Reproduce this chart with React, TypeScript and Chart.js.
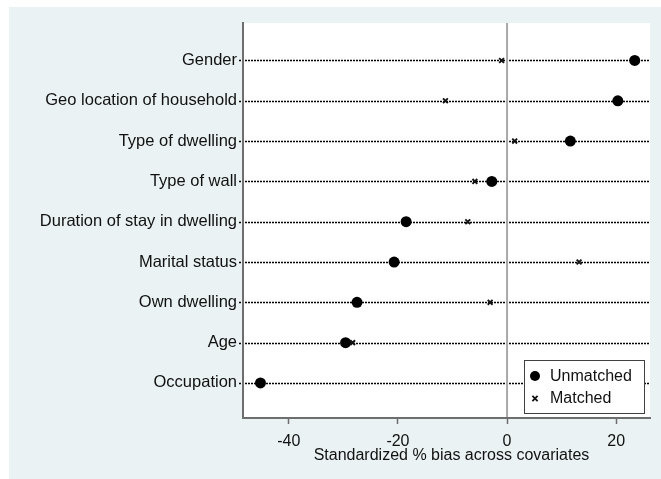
import React, { useEffect, useRef } from "react";
import { Chart, registerables } from "chart.js";

Chart.register(...registerables);

const categories = [
  "Gender",
  "Geo location of household",
  "Type of dwelling",
  "Type of wall",
  "Duration of stay in dwelling",
  "Marital status",
  "Own dwelling",
  "Age",
  "Occupation",
];
const unmatched = [23.4, 20.3, 11.6, -2.8, -18.5, -20.7, -27.5, -29.6, -45.2];
const matched = [-1.0, -11.3, 1.4, -5.9, -7.2, 13.2, -3.1, -28.3, 8.0];
const xTicks = [-40, -20, 0, 20];
const seriesNames = ["Unmatched", "Matched"];
const xTitle = "Standardized % bias across covariates";

const FONT = "'Liberation Sans', Arial, Helvetica, sans-serif";
const TEXT = "#111111";
const AXIS = "#6e6e6e";

const guidesPlugin = {
  id: "guides",
  beforeDraw(chart: any) {
    const { ctx, chartArea, scales } = chart;
    const x = scales.x;
    const y = scales.y;
    ctx.save();
    ctx.fillStyle = "#ffffff";
    ctx.fillRect(chartArea.left, chartArea.top, chartArea.right - chartArea.left, chartArea.bottom - chartArea.top);
    ctx.strokeStyle = "#000000";
    ctx.lineWidth = 1.6;
    ctx.setLineDash([2, 1]);
    categories.forEach((_, i) => {
      const py = Math.round(y.getPixelForValue(i + 1)) + 0.5;
      ctx.beginPath();
      ctx.moveTo(Math.round(chartArea.left) - 4, py);
      ctx.lineTo(chartArea.right, py);
      ctx.stroke();
    });
    ctx.setLineDash([]);
    const px = x.getPixelForValue(0);
    ctx.strokeStyle = "#a8a8a8";
    ctx.lineWidth = 2;
    ctx.beginPath();
    ctx.moveTo(px, chartArea.top);
    ctx.lineTo(px, chartArea.bottom);
    ctx.stroke();
    ctx.restore();
  },
};

const legendPlugin = {
  id: "boxLegend",
  afterDraw(chart: any) {
    const { ctx, chartArea } = chart;
    // axis title
    ctx.save();
    ctx.fillStyle = TEXT;
    ctx.font = `16px ${FONT}`;
    ctx.textAlign = "center";
    ctx.textBaseline = "middle";
    ctx.fillText(xTitle, (chartArea.left + chartArea.right) / 2 + 5, chartArea.bottom + 38);
    ctx.restore();

    const w = 120;
    const h = 53;
    const right = chartArea.right - 6;
    const bottom = chartArea.bottom - 5;
    const left = right - w;
    const top = bottom - h;
    ctx.save();
    ctx.fillStyle = "#ffffff";
    ctx.fillRect(left, top, w, h);
    ctx.strokeStyle = "#404040";
    ctx.lineWidth = 1;
    ctx.strokeRect(Math.round(left) + 0.5, Math.round(top) + 0.5, w, h);
    const mx = left + 11;
    const y1 = top + 16;
    const y2 = top + 38.5;
    ctx.fillStyle = "#000000";
    ctx.beginPath();
    ctx.arc(mx, y1, 5, 0, Math.PI * 2);
    ctx.fill();
    ctx.strokeStyle = "#111111";
    ctx.lineWidth = 1.8;
    const c = 2.6;
    ctx.beginPath();
    ctx.moveTo(mx - c, y2 - c);
    ctx.lineTo(mx + c, y2 + c);
    ctx.moveTo(mx + c, y2 - c);
    ctx.lineTo(mx - c, y2 + c);
    ctx.stroke();
    ctx.fillStyle = TEXT;
    ctx.font = `16px ${FONT}`;
    ctx.textAlign = "left";
    ctx.textBaseline = "middle";
    ctx.fillText(seriesNames[0], left + 26, y1 + 0.5);
    ctx.fillText(seriesNames[1], left + 26, y2 + 0.5);
    ctx.restore();
  },
};

export default function App() {
  const canvasRef = useRef<HTMLCanvasElement | null>(null);

  useEffect(() => {
    if (!canvasRef.current) return;
    const chart = new Chart(canvasRef.current, {
      type: "scatter",
      data: {
        datasets: [
          {
            label: seriesNames[1],
            data: matched.map((v, i) => ({ x: v, y: i + 1 })),
            pointStyle: "crossRot",
            pointRadius: 3.4,
            borderColor: "#111111",
            backgroundColor: "#111111",
            pointBorderWidth: 1.9,
            order: 0,
          },
          {
            label: seriesNames[0],
            data: unmatched.map((v, i) => ({ x: v, y: i + 1 })),
            pointStyle: "circle",
            pointRadius: 5.5,
            borderColor: "#000000",
            backgroundColor: "#000000",
            pointBorderWidth: 0,
            order: 1,
          },
        ],
      },
      options: {
        responsive: false,
        animation: false,
        events: [],
        layout: { padding: { top: 16, right: 11, left: 0, bottom: 0 } },
        plugins: {
          legend: { display: false },
          tooltip: { enabled: false },
        },
        scales: {
          x: {
            type: "linear",
            min: -48.4,
            max: 26.2,
            afterBuildTicks: (s: any) => {
              s.ticks = xTicks.map((v) => ({ value: v }));
            },
            afterFit: (s: any) => {
              s.height = 61;
            },
            grid: {
              display: true,
              drawOnChartArea: false,
              drawTicks: true,
              tickLength: 6,
              tickColor: AXIS,
              tickWidth: 1.5,
            },
            border: { display: true, color: AXIS, width: 2 },
            ticks: {
              padding: 8,
              color: TEXT,
              font: { family: FONT, size: 16 },
              maxRotation: 0,
              autoSkip: false,
              callback: (v: any) => String(v),
            },
            title: { display: false },
          },
          y: {
            type: "linear",
            reverse: true,
            min: 0.07,
            max: 9.87,
            afterBuildTicks: (s: any) => {
              s.ticks = categories.map((_, i) => ({ value: i + 1 }));
            },
            afterFit: (s: any) => {
              s.width = 234;
            },
            grid: { display: true, drawOnChartArea: false, drawTicks: false },
            border: { display: true, color: AXIS, width: 2 },
            ticks: {
              padding: 6,
              color: TEXT,
              font: { family: FONT, size: 16.5 },
              autoSkip: false,
              callback: (v: any) => categories[Math.round(v) - 1] ?? "",
            },
          },
        },
      },
      plugins: [guidesPlugin, legendPlugin],
    });
    return () => chart.destroy();
  }, []);

  return (
    <div
      style={{
        position: "absolute",
        left: 9,
        top: 7,
        width: 652,
        height: 472,
        background: "#EAF2F3",
      }}
    >
      <canvas ref={canvasRef} width={652} height={472} style={{ display: "block" }} />
    </div>
  );
}
